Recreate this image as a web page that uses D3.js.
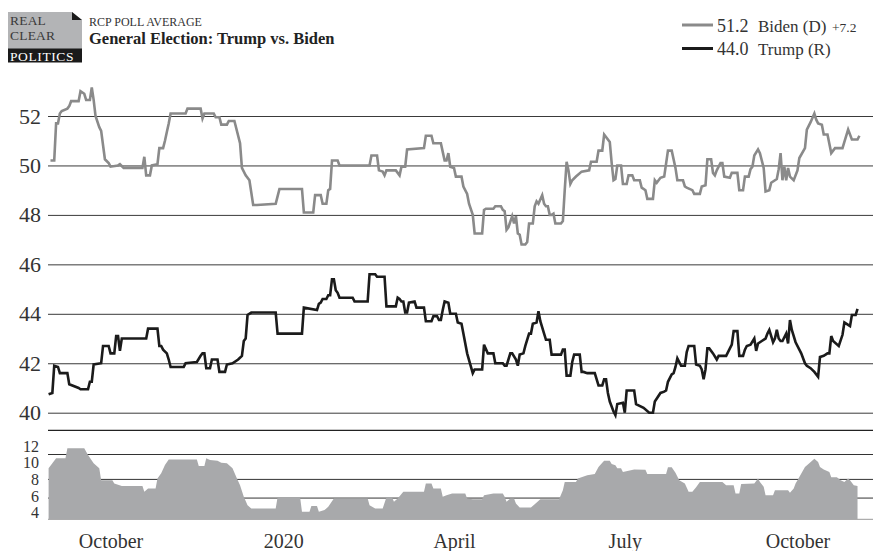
<!DOCTYPE html>
<html>
<head>
<meta charset="utf-8">
<script src="https://cdn.jsdelivr.net/npm/d3@7"></script>
<style>
  body { margin: 0; background: #fff; }
  svg { display: block; font-family: "Liberation Serif", "DejaVu Serif", serif; }
</style>
</head>
<body>
<div id="chart"></div>
<script>
// RCP poll average
const biden = [
  ["2019-08-30",50.2],["2019-09-01",50.2],["2019-09-02",51.7],["2019-09-03",51.7],["2019-09-04",52.1],["2019-09-05",52.2],
  ["2019-09-08",52.3],["2019-09-09",52.4],["2019-09-10",52.6],["2019-09-14",52.6],["2019-09-15",53.0],["2019-09-17",52.9],
  ["2019-09-18",52.65],["2019-09-20",52.65],["2019-09-21",53.15],["2019-09-22",52.65],["2019-09-23",52.0],["2019-09-25",51.55],
  ["2019-09-26",51.4],["2019-09-28",50.25],["2019-09-30",50.1],["2019-10-01",49.95],["2019-10-05",50.0],["2019-10-06",50.05],
  ["2019-10-08",49.9],["2019-10-18",49.9],["2019-10-19",50.35],["2019-10-20",49.6],["2019-10-22",49.6],["2019-10-23",50.0],
  ["2019-10-26",50.05],["2019-10-27",50.7],["2019-10-29",50.7],["2019-10-30",51.0],["2019-10-31",51.35],["2019-11-01",51.7],
  ["2019-11-02",52.1],["2019-11-10",52.1],["2019-11-11",52.3],["2019-11-18",52.3],["2019-11-19",51.9],["2019-11-20",52.1],
  ["2019-11-25",52.1],["2019-11-26",51.95],["2019-11-28",51.95],["2019-11-29",51.65],["2019-12-02",51.65],["2019-12-03",51.8],
  ["2019-12-06",51.8],["2019-12-09",50.9],["2019-12-10",49.9],["2019-12-12",49.6],["2019-12-14",49.4],["2019-12-16",48.4],
  ["2019-12-18",48.4],["2019-12-28",48.45],["2019-12-29",48.75],["2019-12-30",49.05],["2020-01-11",49.05],["2020-01-12",48.1],
  ["2020-01-17",48.1],["2020-01-18",48.8],["2020-01-21",48.8],["2020-01-22",48.45],["2020-01-24",48.45],["2020-01-25",49.0],
  ["2020-01-26",49.05],["2020-01-27",50.2],["2020-01-30",50.2],["2020-01-31",50.0],["2020-02-16",50.0],["2020-02-17",50.4],
  ["2020-02-20",50.4],["2020-02-21",49.8],["2020-02-23",49.75],["2020-02-24",49.6],["2020-02-25",49.8],["2020-03-01",49.8],
  ["2020-03-03",49.6],["2020-03-04",49.95],["2020-03-06",49.95],["2020-03-07",50.65],["2020-03-16",50.7],["2020-03-17",51.2],
  ["2020-03-20",51.2],["2020-03-21",50.9],["2020-03-25",50.9],["2020-03-26",50.55],["2020-03-27",50.2],["2020-03-28",50.2],
  ["2020-03-29",50.5],["2020-03-30",49.95],["2020-04-01",49.9],["2020-04-02",49.55],["2020-04-05",49.55],["2020-04-06",49.15],
  ["2020-04-08",48.85],["2020-04-09",48.45],["2020-04-11",48.0],["2020-04-12",47.25],["2020-04-16",47.25],["2020-04-17",48.2],
  ["2020-04-18",48.25],["2020-04-22",48.25],["2020-04-23",48.35],["2020-04-26",48.35],["2020-04-27",48.2],["2020-04-28",48.15],
  ["2020-04-29",47.4],["2020-04-30",47.5],["2020-05-02",47.95],["2020-05-03",47.65],["2020-05-04",47.95],["2020-05-05",47.25],
  ["2020-05-06",47.2],["2020-05-07",46.8],["2020-05-09",46.8],["2020-05-10",46.9],["2020-05-11",47.65],["2020-05-13",47.65],
  ["2020-05-14",48.35],["2020-05-15",48.55],["2020-05-16",48.45],["2020-05-18",48.8],["2020-05-19",48.45],["2020-05-20",48.35],
  ["2020-05-21",48.35],["2020-05-22",48.0],["2020-05-23",48.0],["2020-05-24",48.05],["2020-05-25",47.65],["2020-05-28",47.65],
  ["2020-05-29",47.75],["2020-05-30",49.0],["2020-05-31",50.15],["2020-06-01",49.8],["2020-06-02",49.25],["2020-06-03",49.4],
  ["2020-06-05",49.55],["2020-06-08",49.75],["2020-06-12",49.8],["2020-06-13",50.15],["2020-06-16",50.15],["2020-06-17",50.6],
  ["2020-06-19",50.6],["2020-06-20",51.25],["2020-06-21",51.15],["2020-06-23",50.95],["2020-06-24",50.1],["2020-06-25",49.4],
  ["2020-06-26",49.45],["2020-06-27",50.0],["2020-06-29",50.0],["2020-06-30",49.25],["2020-07-02",49.25],["2020-07-03",49.6],
  ["2020-07-05",49.6],["2020-07-06",49.4],["2020-07-09",49.4],["2020-07-10",49.1],["2020-07-12",49.0],["2020-07-13",48.65],
  ["2020-07-16",48.65],["2020-07-17",49.4],["2020-07-18",49.3],["2020-07-20",49.5],["2020-07-22",49.55],["2020-07-24",50.6],
  ["2020-07-26",50.6],["2020-07-28",49.9],["2020-07-29",49.4],["2020-08-01",49.4],["2020-08-02",49.15],["2020-08-03",49.1],
  ["2020-08-06",49.0],["2020-08-07",48.85],["2020-08-10",48.85],["2020-08-11",49.15],["2020-08-13",49.2],["2020-08-14",50.25],
  ["2020-08-16",50.25],["2020-08-17",49.7],["2020-08-18",49.6],["2020-08-19",49.8],["2020-08-21",50.1],["2020-08-22",50.1],
  ["2020-08-23",49.55],["2020-08-26",49.5],["2020-08-27",49.7],["2020-08-30",49.7],["2020-08-31",49.0],["2020-09-02",49.0],
  ["2020-09-03",49.55],["2020-09-05",49.55],["2020-09-06",49.85],["2020-09-07",49.95],["2020-09-08",50.4],["2020-09-10",50.65],
  ["2020-09-11",50.5],["2020-09-13",49.9],["2020-09-14",48.95],["2020-09-16",49.0],["2020-09-17",49.3],["2020-09-20",49.45],
  ["2020-09-21",49.85],["2020-09-22",50.5],["2020-09-23",49.4],["2020-09-24",49.95],["2020-09-25",49.4],["2020-09-26",49.9],
  ["2020-09-27",49.55],["2020-09-29",49.4],["2020-10-01",49.8],["2020-10-02",50.3],["2020-10-05",50.7],["2020-10-06",51.45],
  ["2020-10-08",51.75],["2020-10-10",52.1],["2020-10-11",51.85],["2020-10-12",51.7],["2020-10-14",51.65],["2020-10-15",51.25],
  ["2020-10-17",51.25],["2020-10-19",50.5],["2020-10-21",50.7],["2020-10-25",50.7],["2020-10-26",50.95],["2020-10-28",51.45],
  ["2020-10-30",51.05],["2020-11-02",51.05],["2020-11-03",51.2]
];

const trump = [
  ["2019-08-29",40.75],["2019-08-31",40.8],["2019-09-01",41.9],["2019-09-03",41.85],["2019-09-04",41.6],["2019-09-08",41.6],
  ["2019-09-09",41.15],["2019-09-14",41.0],["2019-09-15",40.95],["2019-09-19",40.95],["2019-09-20",41.25],["2019-09-21",41.25],
  ["2019-09-22",41.95],["2019-09-26",42.0],["2019-09-27",42.7],["2019-09-30",42.7],["2019-10-01",42.4],["2019-10-03",42.4],
  ["2019-10-04",43.1],["2019-10-05",43.1],["2019-10-06",42.5],["2019-10-07",43.0],["2019-10-20",43.0],["2019-10-21",43.4],
  ["2019-10-26",43.4],["2019-10-27",42.7],["2019-10-28",42.7],["2019-10-29",42.55],["2019-10-31",42.4],["2019-11-01",42.15],
  ["2019-11-02",41.85],["2019-11-09",41.85],["2019-11-10",42.0],["2019-11-16",42.05],["2019-11-18",42.3],["2019-11-19",42.4],
  ["2019-11-20",42.4],["2019-11-21",41.8],["2019-11-23",41.8],["2019-11-24",42.15],["2019-11-27",42.15],["2019-11-28",41.65],
  ["2019-12-01",41.65],["2019-12-02",41.95],["2019-12-05",42.0],["2019-12-08",42.15],["2019-12-10",42.3],["2019-12-11",42.9],
  ["2019-12-12",43.0],["2019-12-13",43.95],["2019-12-15",44.05],["2019-12-28",44.05],["2019-12-29",43.2],["2020-01-11",43.2],
  ["2020-01-12",44.25],["2020-01-19",44.15],["2020-01-20",44.4],["2020-01-21",44.45],["2020-01-22",44.6],["2020-01-24",44.6],
  ["2020-01-25",44.75],["2020-01-26",44.75],["2020-01-27",45.4],["2020-01-28",45.4],["2020-01-29",44.95],["2020-01-30",44.85],
  ["2020-01-31",44.65],["2020-02-07",44.65],["2020-02-08",44.5],["2020-02-15",44.5],["2020-02-16",45.6],["2020-02-19",45.6],
  ["2020-02-20",45.5],["2020-02-24",45.5],["2020-02-25",44.3],["2020-03-01",44.3],["2020-03-02",44.65],["2020-03-03",44.6],
  ["2020-03-04",44.5],["2020-03-05",44.5],["2020-03-06",44.05],["2020-03-07",44.05],["2020-03-08",44.45],["2020-03-11",44.5],
  ["2020-03-12",44.25],["2020-03-16",44.25],["2020-03-17",43.7],["2020-03-20",43.7],["2020-03-21",43.9],["2020-03-23",43.9],
  ["2020-03-24",43.75],["2020-03-25",43.75],["2020-03-26",44.15],["2020-03-27",44.5],["2020-03-29",44.45],["2020-03-30",44.0],
  ["2020-04-02",44.0],["2020-04-03",43.65],["2020-04-05",43.6],["2020-04-06",43.2],["2020-04-08",42.4],["2020-04-11",41.6],
  ["2020-04-12",41.75],["2020-04-16",41.75],["2020-04-17",42.75],["2020-04-19",42.4],["2020-04-22",42.4],["2020-04-23",42.0],
  ["2020-04-27",42.0],["2020-04-28",41.9],["2020-04-29",41.9],["2020-05-01",42.4],["2020-05-02",42.4],["2020-05-04",42.15],
  ["2020-05-05",41.9],["2020-05-06",42.35],["2020-05-08",42.4],["2020-05-09",42.7],["2020-05-11",43.2],["2020-05-12",43.2],
  ["2020-05-13",43.6],["2020-05-15",43.65],["2020-05-16",44.1],["2020-05-17",43.7],["2020-05-19",43.2],["2020-05-20",42.95],
  ["2020-05-22",42.95],["2020-05-23",42.35],["2020-05-28",42.35],["2020-05-29",42.55],["2020-05-30",42.55],["2020-05-31",41.5],
  ["2020-06-02",41.5],["2020-06-03",42.05],["2020-06-04",42.35],["2020-06-07",42.35],["2020-06-08",41.65],["2020-06-09",41.65],
  ["2020-06-11",41.6],["2020-06-15",41.6],["2020-06-17",41.1],["2020-06-19",41.1],["2020-06-20",41.35],["2020-06-21",41.35],
  ["2020-06-22",40.8],["2020-06-23",40.45],["2020-06-25",40.05],["2020-06-26",39.9],["2020-06-27",40.35],["2020-06-30",40.4],
  ["2020-07-01",40.0],["2020-07-02",40.9],["2020-07-06",40.9],["2020-07-07",40.35],["2020-07-11",40.2],["2020-07-14",40.0],
  ["2020-07-16",40.0],["2020-07-17",40.45],["2020-07-20",40.8],["2020-07-22",40.85],["2020-07-23",40.9],["2020-07-24",41.25],
  ["2020-07-26",41.55],["2020-07-27",41.6],["2020-07-28",41.85],["2020-07-29",42.2],["2020-07-30",42.05],["2020-07-31",41.9],
  ["2020-08-02",41.9],["2020-08-03",42.45],["2020-08-04",42.7],["2020-08-07",42.7],["2020-08-08",41.95],["2020-08-10",41.9],
  ["2020-08-11",41.75],["2020-08-12",41.35],["2020-08-13",41.75],["2020-08-14",42.6],["2020-08-15",42.6],["2020-08-17",42.4],
  ["2020-08-19",42.15],["2020-08-20",42.3],["2020-08-24",42.3],["2020-08-25",42.45],["2020-08-26",42.6],["2020-08-27",42.75],
  ["2020-08-28",43.3],["2020-08-30",43.3],["2020-08-31",42.3],["2020-09-02",42.3],["2020-09-03",42.55],["2020-09-04",42.7],
  ["2020-09-06",42.75],["2020-09-08",43.0],["2020-09-09",42.5],["2020-09-10",42.8],["2020-09-12",42.9],["2020-09-14",43.0],
  ["2020-09-15",43.2],["2020-09-16",43.35],["2020-09-18",42.85],["2020-09-19",43.0],["2020-09-20",43.35],["2020-09-21",43.0],
  ["2020-09-22",42.9],["2020-09-23",42.9],["2020-09-25",43.2],["2020-09-26",42.8],["2020-09-27",43.75],["2020-09-28",43.35],
  ["2020-09-30",42.85],["2020-10-03",42.4],["2020-10-05",42.0],["2020-10-06",41.9],["2020-10-08",41.8],["2020-10-10",41.65],
  ["2020-10-12",41.45],["2020-10-13",42.25],["2020-10-15",42.3],["2020-10-17",42.4],["2020-10-18",42.4],["2020-10-19",43.1],
  ["2020-10-20",42.9],["2020-10-23",42.7],["2020-10-25",43.15],["2020-10-26",43.65],["2020-10-28",43.55],["2020-10-29",43.5],
  ["2020-10-30",43.95],["2020-11-01",43.95],["2020-11-02",44.2]
];

// Biden lead (spread panel)
const spread = [
  ["2019-08-29",9.35],["2019-08-31",9.95],["2019-09-02",10.55],["2019-09-07",10.55],["2019-09-08",11.75],["2019-09-17",11.75],
  ["2019-09-19",10.95],["2019-09-22",9.95],["2019-09-25",9.35],["2019-09-26",7.9],["2019-10-02",7.9],["2019-10-03",7.5],
  ["2019-10-07",7.2],["2019-10-18",7.2],["2019-10-19",6.5],["2019-10-21",6.9],["2019-10-25",6.9],["2019-10-26",8.1],
  ["2019-10-28",8.75],["2019-10-30",9.75],["2019-11-01",10.4],["2019-11-16",10.4],["2019-11-17",9.6],["2019-11-20",9.6],
  ["2019-11-21",10.55],["2019-11-23",10.35],["2019-11-27",10.25],["2019-11-29",10.0],["2019-12-02",9.95],["2019-12-05",9.35],
  ["2019-12-07",8.3],["2019-12-09",7.3],["2019-12-11",5.9],["2019-12-13",4.9],["2019-12-15",4.5],["2019-12-28",4.5],
  ["2019-12-29",5.85],["2020-01-10",5.85],["2020-01-11",4.1],["2020-01-15",4.1],["2020-01-16",4.8],["2020-01-19",4.8],
  ["2020-01-20",4.1],["2020-01-23",4.3],["2020-01-25",4.7],["2020-01-28",5.7],["2020-02-15",5.7],["2020-02-16",4.9],
  ["2020-02-19",4.5],["2020-02-23",4.5],["2020-02-25",5.85],["2020-02-28",5.85],["2020-02-29",5.3],["2020-03-02",5.7],
  ["2020-03-05",6.5],["2020-03-16",6.5],["2020-03-17",7.5],["2020-03-20",7.5],["2020-03-21",6.9],["2020-03-25",6.9],
  ["2020-03-26",5.9],["2020-03-28",6.1],["2020-03-31",6.3],["2020-04-07",6.3],["2020-04-08",5.7],["2020-04-11",5.6],
  ["2020-04-16",5.6],["2020-04-17",6.1],["2020-04-22",6.3],["2020-04-27",6.3],["2020-04-28",5.9],["2020-04-29",5.3],
  ["2020-05-01",5.7],["2020-05-03",5.7],["2020-05-04",5.1],["2020-05-06",4.6],["2020-05-12",4.6],["2020-05-14",5.0],
  ["2020-05-17",5.6],["2020-05-27",5.6],["2020-05-29",6.7],["2020-05-30",7.7],["2020-06-05",7.7],["2020-06-06",8.1],
  ["2020-06-11",8.5],["2020-06-15",8.65],["2020-06-17",9.5],["2020-06-19",10.0],["2020-06-20",10.25],["2020-06-23",10.25],
  ["2020-06-24",9.85],["2020-06-26",9.7],["2020-06-27",9.35],["2020-06-29",9.35],["2020-06-30",8.9],["2020-07-06",9.2],
  ["2020-07-12",9.15],["2020-07-13",8.65],["2020-07-23",8.65],["2020-07-24",9.45],["2020-07-26",9.45],["2020-07-28",8.8],
  ["2020-07-30",7.9],["2020-08-02",7.5],["2020-08-04",6.5],["2020-08-06",6.5],["2020-08-08",7.05],["2020-08-10",7.7],
  ["2020-08-22",7.7],["2020-08-24",7.3],["2020-08-28",7.3],["2020-08-29",6.3],["2020-08-31",6.3],["2020-09-01",7.45],
  ["2020-09-08",7.5],["2020-09-10",8.1],["2020-09-11",7.7],["2020-09-13",7.1],["2020-09-14",6.1],["2020-09-18",6.1],
  ["2020-09-19",6.7],["2020-09-26",6.7],["2020-09-27",6.4],["2020-09-29",6.9],["2020-09-30",7.5],["2020-10-02",8.3],
  ["2020-10-05",9.5],["2020-10-07",9.9],["2020-10-10",10.5],["2020-10-12",10.1],["2020-10-13",9.5],["2020-10-15",9.2],
  ["2020-10-18",8.9],["2020-10-19",8.25],["2020-10-22",8.25],["2020-10-24",7.9],["2020-10-26",7.7],["2020-10-28",8.1],
  ["2020-10-29",7.9],["2020-10-31",7.3],["2020-11-02",7.2]
];

const yTicks = [40, 42, 44, 46, 48, 50, 52];
const spreadTicks = [4, 6, 8, 10, 12];
const spreadGrid = [5.75, 8, 11];
const monthTicks = ["2019-10-01", "2020-01-01", "2020-04-01", "2020-07-01", "2020-10-01"];
const monthLabels = ["October", "2020", "April", "July", "October"];
const legendItems = [
  { value: "51.2", name: "Biden (D)", extra: "+7.2", color: "#8a8a8a" },
  { value: "44.0", name: "Trump (R)", extra: "", color: "#1b1b1b" }
];

const width = 873;
const height = 551;
const left = 48;
const parse = d3.timeParse("%Y-%m-%d");

const svg = d3.select("#chart")
    .append("svg")
    .attr("width", width)
    .attr("height", height);

const x = d3.scaleTime()
    .domain([parse("2019-08-29"), parse("2020-11-03")])
    .range([48.6, 859.4]);

const y = d3.scaleLinear().domain([40, 52]).range([412.7, 116]);
const y2 = d3.scaleLinear().domain([4, 12]).range([512.6, 446.2]);
const spreadBottom = 519.3;

// Main gridlines with labels
const yAxis = svg.append("g")
    .attr("transform", `translate(${left},0)`)
    .call(d3.axisLeft(y).tickValues(yTicks).tickSize(-(width - left)).tickPadding(7).tickFormat(d3.format("d")));
yAxis.select(".domain").remove();
yAxis.selectAll(".tick line").attr("stroke", "#3a3a3a").attr("stroke-width", 1);
yAxis.selectAll(".tick text")
    .attr("fill", "#333")
    .style("font-size", "22px")
    .style("font-family", "'Liberation Serif', serif");

// Separator between panels
svg.append("line")
    .attr("x1", left).attr("x2", width)
    .attr("y1", 430.3).attr("y2", 430.3)
    .attr("stroke", "#222").attr("stroke-width", 1.2);

// Spread panel gridlines, then the area on top
svg.append("g")
    .selectAll("line")
    .data(spreadGrid)
    .enter().append("line")
    .attr("x1", left).attr("x2", width)
    .attr("y1", d => y2(d)).attr("y2", d => y2(d))
    .attr("stroke", "#333").attr("stroke-width", 1);

svg.append("line")
    .attr("x1", left).attr("x2", width)
    .attr("y1", spreadBottom).attr("y2", spreadBottom)
    .attr("stroke", "#999").attr("stroke-width", 1);

const area = d3.area()
    .x(d => x(parse(d[0])))
    .y0(spreadBottom)
    .y1(d => y2(d[1]));

svg.append("path")
    .datum(spread)
    .attr("d", area)
    .attr("fill", "#a8a9ab");

const y2Axis = svg.append("g")
    .attr("transform", `translate(${left},0)`)
    .call(d3.axisLeft(y2).tickValues(spreadTicks).tickSize(0).tickPadding(9));
y2Axis.select(".domain").remove();
y2Axis.selectAll(".tick text")
    .attr("fill", "#333")
    .style("font-size", "16px")
    .style("font-family", "'Liberation Serif', serif");

// Lines
const line = d3.line()
    .x(d => x(parse(d[0])))
    .y(d => y(d[1]));

svg.append("path")
    .datum(biden)
    .attr("d", line)
    .attr("fill", "none")
    .attr("stroke", legendItems[0].color)
    .attr("stroke-width", 2.6)
    .attr("stroke-linejoin", "miter");

svg.append("path")
    .datum(trump)
    .attr("d", line)
    .attr("fill", "none")
    .attr("stroke", legendItems[1].color)
    .attr("stroke-width", 2.6)
    .attr("stroke-linejoin", "miter");

// Month labels
const xAxis = svg.append("g")
    .attr("transform", "translate(0,534)")
    .call(d3.axisBottom(x)
        .tickValues(monthTicks.map(parse))
        .tickSize(0)
        .tickPadding(0)
        .tickFormat((d, i) => monthLabels[i]));
xAxis.select(".domain").remove();
xAxis.selectAll(".tick text")
    .attr("fill", "#333")
    .style("font-size", "20px")
    .style("font-family", "'Liberation Serif', serif");

// Logo
const logo = svg.append("g");
logo.append("path")
    .attr("d", "M8,12 H72 L82,20 V49 H8 Z")
    .attr("fill", "#b3b4b6");
logo.append("path")
    .attr("d", "M72,12 V20 H82 Z")
    .attr("fill", "#1a1a1a");
logo.append("rect")
    .attr("x", 8).attr("y", 48.5).attr("width", 74).attr("height", 14)
    .attr("fill", "#1a1a1a");
logo.selectAll("text.logo")
    .data(["REAL", "CLEAR", "POLITICS"])
    .enter().append("text")
    .attr("class", "logo")
    .attr("x", 10)
    .attr("y", (d, i) => [25, 40, 60.5][i])
    .attr("fill", (d, i) => i === 2 ? "#fff" : "#3a3a3a")
    .style("font-size", "13.5px")
    .style("letter-spacing", (d, i) => i === 2 ? "0.6px" : "0.2px")
    .text(d => d);

// Title
svg.append("text")
    .attr("x", 89).attr("y", 25.5)
    .attr("fill", "#333")
    .style("font-size", "12px")
    .text("RCP POLL AVERAGE");
svg.append("text")
    .attr("x", 89).attr("y", 43.5)
    .attr("fill", "#222")
    .style("font-size", "16.5px")
    .style("font-weight", "bold")
    .text("General Election: Trump vs. Biden");

// Legend
const legend = svg.append("g")
    .selectAll("g")
    .data(legendItems)
    .enter().append("g")
    .attr("transform", (d, i) => `translate(0,${25 + i * 23.5})`);
legend.append("line")
    .attr("x1", 682).attr("x2", 713)
    .attr("stroke", d => d.color)
    .attr("stroke-width", 3);
legend.append("text")
    .attr("x", 717).attr("y", 6.5)
    .attr("fill", "#333")
    .style("font-size", "18px")
    .text(d => d.value);
legend.append("text")
    .attr("x", 758).attr("y", 6.5)
    .attr("fill", "#333")
    .style("font-size", "17px")
    .text(d => d.name);
legend.append("text")
    .attr("x", 832).attr("y", 6.5)
    .attr("fill", "#333")
    .style("font-size", "13.5px")
    .text(d => d.extra);
</script>
</body>
</html>
